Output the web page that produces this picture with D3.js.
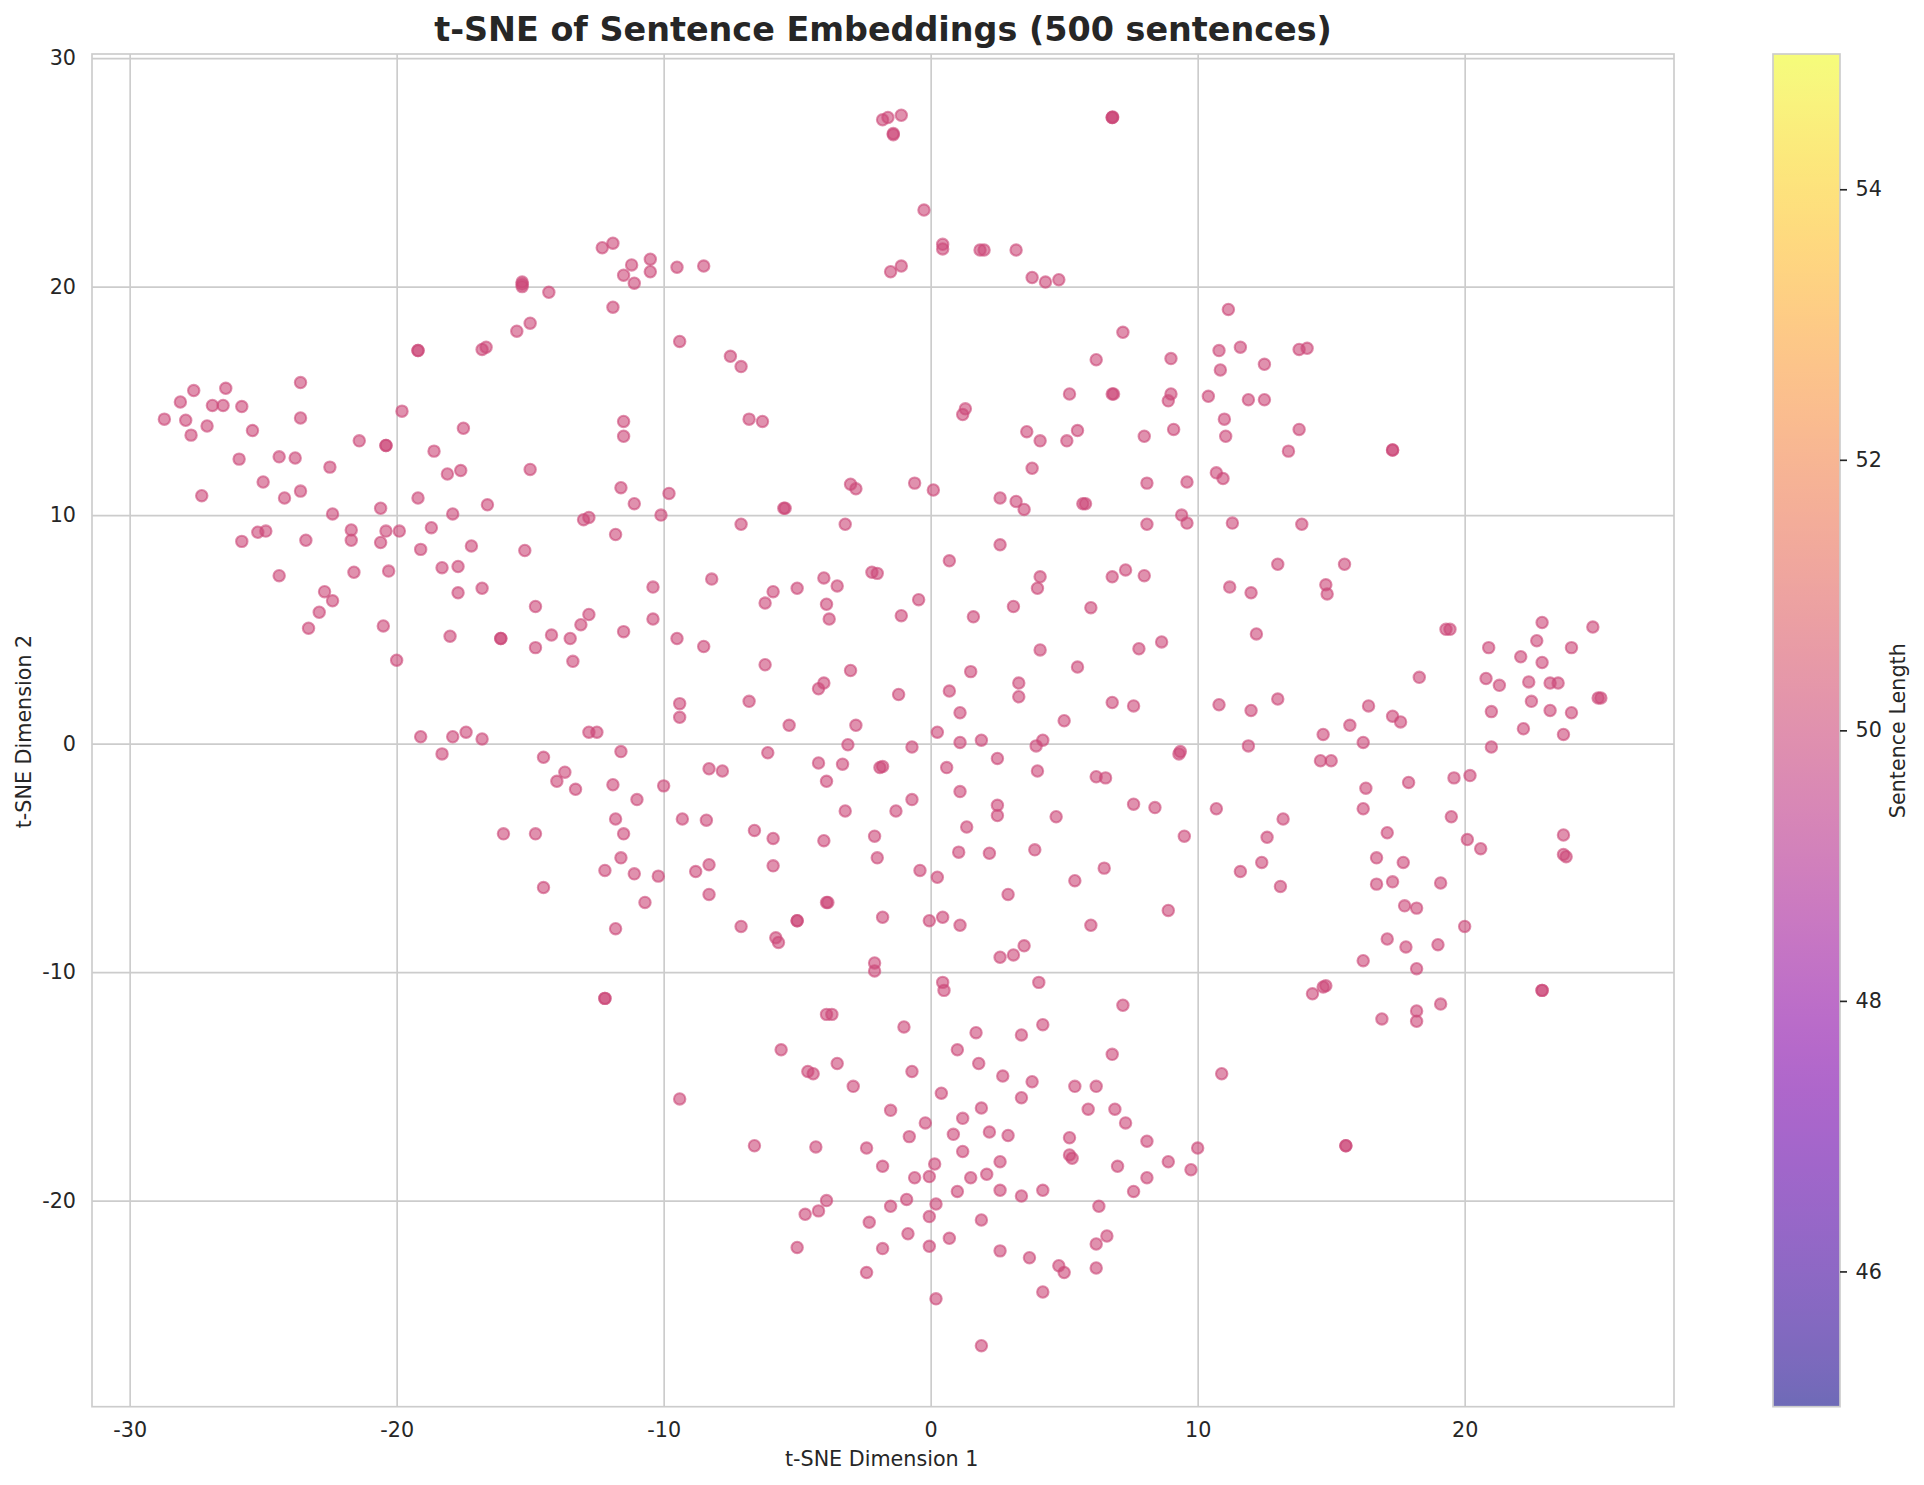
<!DOCTYPE html>
<html><head><meta charset="utf-8">
<script src="https://cdn.jsdelivr.net/npm/d3@7"></script>
<style>html,body{margin:0;padding:0;background:#fff}svg{display:block}text{font-family:"DejaVu Sans",sans-serif;fill:#262626}</style>
</head><body><div id="chart"></div>
<script>
const xTicks=[-30,-20,-10,0,10,20];
const yTicks=[-20,-10,0,10,20,30];
const colorTicks=[46,48,50,52,54];
const xDomain=[-31.41,27.84];
const yDomain=[-29.02,30.18];
const colorDomain=[45,55];
const sentenceLength=50;
const topPoints=[[-1.8,27.3],[-1.6,27.4],[-1.1,27.5],[-1.4,26.7],[-1.4,26.65],[6.8,27.4],[6.8,27.4],[6.82,27.42],[-0.25,23.35],[0.45,21.85],[0.45,21.65],[1.85,21.6],[2.0,21.6],[3.2,21.6],[3.8,20.4],[4.3,20.2],[4.8,20.3],[-1.5,20.65],[-1.1,20.9],[-12.3,21.7],[-11.9,21.9],[-11.2,20.95],[-10.5,21.2],[-10.5,20.65],[-11.5,20.5],[-11.1,20.15],[-9.5,20.85],[-8.5,20.9],[-15.3,20.0],[-15.3,20.2],[-15.3,20.1],[-14.3,19.75],[-11.9,19.1],[-15.5,18.05],[-15.0,18.4],[-16.8,17.25],[-16.65,17.35],[-19.2,17.2],[-19.2,17.2],[-9.4,17.6],[-7.5,16.95],[-7.1,16.5]];
const leftPoints=[[-28.7,14.2],[-28.1,14.95],[-27.9,14.15],[-27.6,15.45],[-27.7,13.5],[-27.1,13.9],[-26.9,14.8],[-26.5,14.8],[-26.4,15.55],[-25.8,14.75],[-25.9,12.45],[-25.4,13.7],[-27.3,10.85],[-25.0,11.45],[-24.4,12.55],[-23.8,12.5],[-23.6,15.8],[-23.6,14.25],[-23.6,11.05],[-24.2,10.75],[-22.5,12.1],[-21.4,13.25],[-20.4,13.05],[-20.4,13.05],[-19.8,14.55],[-17.5,13.8],[-18.6,12.8],[-18.1,11.8],[-17.6,11.95],[-19.2,10.75],[-20.6,10.3],[-22.4,10.05],[-17.9,10.05],[-16.6,10.45],[-15.0,12.0],[-25.8,8.85],[-25.2,9.25],[-24.9,9.3],[-24.4,7.35],[-23.4,8.9],[-21.7,9.35],[-21.7,8.9],[-20.6,8.8],[-20.4,9.3],[-19.9,9.3],[-18.7,9.45],[-19.1,8.5],[-17.2,8.65],[-15.2,8.45],[-21.6,7.5],[-20.3,7.55],[-18.3,7.7],[-17.7,7.75],[-17.7,6.6],[-16.8,6.8],[-22.7,6.65],[-22.4,6.25],[-22.9,5.75],[-23.3,5.05],[-20.5,5.15],[-20.0,3.65],[-18.0,4.7],[-16.1,4.6],[-16.1,4.6],[-14.8,6.0],[-14.8,4.2],[-14.2,4.75],[-13.5,4.6],[-13.1,5.2],[-12.8,5.65],[-13.4,3.6],[-11.5,4.9]];
const upperCentrePoints=[[-13.0,9.8],[-12.8,9.9],[-11.8,9.15],[-11.6,11.2],[-11.1,10.5],[-9.8,10.95],[-10.1,10.0],[-11.5,14.1],[-11.5,13.45],[-10.4,6.85],[-10.4,5.45],[-9.5,4.6],[-8.5,4.25],[-8.2,7.2],[-5.5,10.3],[-5.45,10.3],[-7.1,9.6],[-6.8,14.2],[-6.3,14.1],[-3.0,11.35],[-2.8,11.15],[-3.2,9.6],[-0.6,11.4],[0.1,11.1],[1.2,14.4],[1.3,14.65],[2.6,10.75],[3.2,10.6],[3.5,10.25],[2.6,8.7],[0.7,8.0],[-2.2,7.5],[-2.0,7.45],[-4.0,7.25],[-3.5,6.9],[-5.9,6.65],[-6.2,6.15],[-5.0,6.8],[-3.9,6.1],[-3.8,5.45],[-1.1,5.6],[-0.45,6.3],[-6.2,3.45],[-3.0,3.2],[-4.2,2.4],[-4.0,2.65],[-6.8,1.85],[-1.2,2.15],[0.7,2.3],[1.5,3.15],[1.6,5.55],[3.1,6.0],[4.1,4.1],[4.0,6.8],[4.1,7.3],[5.5,3.35],[6.0,5.95],[3.3,2.65],[3.3,2.05],[5.0,1.0],[6.8,1.8],[7.6,1.65],[1.1,1.35],[-9.4,1.75],[-9.4,1.15],[-5.3,0.8],[-2.8,0.8],[-12.8,0.5],[-12.5,0.5],[-19.1,0.3],[-17.9,0.3],[-17.4,0.5],[-16.8,0.2],[-18.3,-0.45]];
const lowerCentrePoints=[[-14.5,-0.6],[-14.0,-1.65],[-13.7,-1.25],[-13.3,-2.0],[-11.6,-0.35],[-11.9,-1.8],[-11.0,-2.45],[-11.8,-3.3],[-16.0,-3.95],[-14.8,-3.95],[-11.5,-3.95],[-11.6,-5.0],[-12.2,-5.55],[-11.1,-5.7],[-10.2,-5.8],[-10.7,-6.95],[-14.5,-6.3],[-11.8,-8.1],[-10.0,-1.85],[-9.3,-3.3],[-8.3,-1.1],[-7.8,-1.2],[-8.4,-3.35],[-8.8,-5.6],[-8.3,-5.3],[-8.3,-6.6],[-7.1,-8.0],[-6.6,-3.8],[-5.9,-4.15],[-5.9,-5.35],[-5.8,-8.5],[-5.7,-8.7],[-6.1,-0.4],[-3.1,-0.05],[-4.2,-0.85],[-3.9,-1.65],[-3.3,-0.9],[-3.2,-2.95],[-4.0,-4.25],[-5.0,-7.75],[-5.0,-7.75],[-3.9,-6.95],[-3.85,-6.95],[-2.1,-4.05],[-2.0,-5.0],[-1.8,-7.6],[-1.9,-1.05],[-1.8,-1.0],[-1.3,-2.95],[-0.7,-0.15],[-0.7,-2.45],[-0.4,-5.55],[0.25,-5.85],[0.25,0.5],[1.1,0.05],[1.9,0.15],[2.5,-0.65],[0.6,-1.05],[1.1,-2.1],[2.5,-2.7],[2.5,-3.15],[1.35,-3.65],[1.05,-4.75],[2.2,-4.8],[-0.05,-7.75],[0.45,-7.6],[1.1,-7.95],[2.9,-6.6],[3.9,-4.65],[4.7,-3.2],[4.0,-1.2],[4.2,0.15],[3.95,-0.1],[6.2,-1.45],[6.55,-1.5],[7.6,-2.65],[8.4,-2.8],[5.4,-6.0],[6.5,-5.45],[6.0,-7.95],[2.6,-9.35],[3.1,-9.25],[3.5,-8.85],[0.45,-10.45],[0.5,-10.8],[4.05,-10.45],[-2.1,-9.6],[-2.1,-9.95],[8.9,-7.3],[9.5,-4.05],[10.7,-2.85],[9.3,-0.45],[9.35,-0.35]];
const rightPoints=[[10.8,1.7],[11.9,-0.1],[12.0,1.45],[13.0,1.95],[13.2,-3.3],[12.6,-4.1],[11.6,-5.6],[12.4,-5.2],[13.1,-6.25],[14.7,0.4],[14.6,-0.75],[15.0,-0.75],[15.7,0.8],[16.2,0.05],[16.4,1.65],[17.3,1.2],[17.6,0.95],[18.3,2.9],[16.3,-1.95],[16.2,-2.85],[17.9,-1.7],[17.1,-3.9],[16.7,-5.0],[16.7,-6.15],[17.3,-6.05],[17.7,-5.2],[19.6,-1.5],[20.2,-1.4],[19.5,-3.2],[20.1,-4.2],[20.6,-4.6],[19.1,-6.1],[17.75,-7.1],[18.2,-7.2],[17.1,-8.55],[17.8,-8.9],[19.0,-8.8],[20.0,-8.0],[16.2,-9.5],[18.2,-9.85],[14.3,-10.95],[14.7,-10.65],[14.8,-10.6],[16.9,-12.05],[18.2,-11.7],[18.2,-12.15],[19.1,-11.4],[22.9,-10.8],[22.9,-10.8],[21.0,-0.15],[21.0,1.4],[20.8,2.85],[20.9,4.2],[21.3,2.55],[22.1,3.8],[22.2,0.65],[22.4,2.7],[22.5,1.85],[22.7,4.5],[22.9,3.55],[22.9,5.3],[23.2,2.65],[23.2,1.45],[23.5,2.65],[23.7,0.4],[24.0,1.35],[24.0,4.2],[24.8,5.1],[25.0,2.0],[25.1,2.0],[19.3,5.0],[19.45,5.0],[23.7,-4.0],[23.7,-4.85],[23.8,-4.95]];
const upperRightPoints=[[11.15,19.0],[7.2,18.0],[6.2,16.8],[9.0,16.85],[10.8,17.2],[11.6,17.35],[10.85,16.35],[12.5,16.6],[13.8,17.25],[14.1,17.3],[5.2,15.3],[6.8,15.3],[6.85,15.3],[8.9,15.0],[9.0,15.3],[10.4,15.2],[11.9,15.05],[12.5,15.05],[11.0,14.2],[9.1,13.75],[11.05,13.45],[13.8,13.75],[3.6,13.65],[4.1,13.25],[5.1,13.25],[5.5,13.7],[8.0,13.45],[13.4,12.8],[17.3,12.85],[17.3,12.85],[3.8,12.05],[8.1,11.4],[9.6,11.45],[10.7,11.85],[10.95,11.6],[5.7,10.5],[5.8,10.5],[9.4,10.0],[9.6,9.65],[8.1,9.6],[11.3,9.65],[13.9,9.6],[6.8,7.3],[7.3,7.6],[8.0,7.35],[11.2,6.85],[12.0,6.6],[13.0,7.85],[15.5,7.85],[14.8,6.95],[14.85,6.55],[12.2,4.8],[7.8,4.15],[8.65,4.45]];
const bottomPoints=[[-5.6,-13.4],[-4.6,-14.35],[-4.4,-14.45],[-3.5,-14.0],[-3.9,-11.85],[-3.7,-11.85],[-1.0,-12.4],[-2.9,-15.0],[-0.7,-14.35],[-1.5,-16.05],[0.4,-15.3],[1.0,-13.4],[1.7,-12.65],[1.8,-14.0],[2.7,-14.55],[3.4,-12.75],[4.2,-12.3],[7.2,-11.45],[6.8,-13.6],[10.9,-14.45],[3.8,-14.8],[3.4,-15.5],[5.4,-15.0],[6.2,-15.0],[5.9,-16.0],[6.9,-16.0],[7.3,-16.6],[1.2,-16.4],[1.9,-15.95],[-0.2,-16.6],[-0.8,-17.2],[0.85,-17.1],[2.2,-17.0],[2.9,-17.15],[5.2,-17.25],[8.1,-17.4],[10.0,-17.7],[-2.4,-17.7],[-1.8,-18.5],[1.2,-17.85],[2.6,-18.3],[0.15,-18.4],[5.2,-18.0],[5.3,-18.15],[7.0,-18.5],[8.9,-18.3],[9.75,-18.65],[-0.6,-19.0],[-0.05,-18.95],[1.5,-19.0],[2.1,-18.85],[8.1,-19.0],[1.0,-19.6],[2.6,-19.55],[3.4,-19.8],[4.2,-19.55],[7.6,-19.6],[-0.9,-19.95],[-1.5,-20.25],[0.2,-20.15],[6.3,-20.25],[-3.9,-20.0],[-4.7,-20.6],[-4.2,-20.45],[-2.3,-20.95],[-0.05,-20.7],[1.9,-20.85],[-0.85,-21.45],[0.7,-21.65],[-1.8,-22.1],[-5.0,-22.05],[-0.05,-22.0],[2.6,-22.2],[3.7,-22.5],[6.2,-21.9],[6.6,-21.55],[4.8,-22.85],[5.0,-23.15],[6.2,-22.95],[-2.4,-23.15],[4.2,-24.0],[0.2,-24.3],[1.9,-26.35],[15.55,-17.6],[15.55,-17.6],[-9.4,-15.55],[-6.6,-17.6],[-4.3,-17.65],[-12.2,-11.15],[-12.2,-11.15]];

const allPoints=[...topPoints,...leftPoints,...upperCentrePoints,...lowerCentrePoints,...rightPoints,...upperRightPoints,...bottomPoints];
const W=1924,H=1485,pL=92,pR=1674,pT=54,pB=1406.7,cL=1773,cR=1840;
const svg=d3.select('#chart').append('svg').attr('width',W).attr('height',H).attr('viewBox',[0,0,W,H]);
const x=d3.scaleLinear().domain(xDomain).range([pL,pR]);
const y=d3.scaleLinear().domain(yDomain).range([pB,pT]);
const c=d3.scaleLinear().domain(colorDomain).range([pB,pT]);
const colorOf=v=>d3.interpolatePlasma((v-colorDomain[0])/(colorDomain[1]-colorDomain[0]));
const grid='#cccccc',gw=1.67,fs=20.7;

const gx=svg.append('g').attr('transform',`translate(0,${pB})`).call(d3.axisBottom(x).tickValues(xTicks).tickSize(-(pB-pT)).tickPadding(16).tickFormat(d=>String(d)));
const gy=svg.append('g').attr('transform',`translate(${pL},0)`).call(d3.axisLeft(y).tickValues(yTicks).tickSize(-(pR-pL)).tickPadding(16).tickFormat(d=>String(d)));
[gx,gy].forEach(g=>{g.select('.domain').remove();g.selectAll('line').attr('stroke',grid).attr('stroke-width',gw);g.selectAll('text').attr('font-size',fs).attr('font-family','DejaVu Sans').attr('fill','#262626');});
svg.append('rect').attr('x',pL).attr('y',pT).attr('width',pR-pL).attr('height',pB-pT).attr('fill','none').attr('stroke',grid).attr('stroke-width',gw);

svg.append('g').selectAll('circle').data(allPoints).join('circle')
 .attr('cx',d=>x(d[0])).attr('cy',d=>y(d[1])).attr('r',5.7)
 .attr('fill',colorOf(sentenceLength)).attr('fill-opacity',0.6)
 .attr('stroke',colorOf(sentenceLength)).attr('stroke-opacity',0.6).attr('stroke-width',2.08);

const defs=svg.append('defs');
const lg=defs.append('linearGradient').attr('id','plasmaBar').attr('x1',0).attr('x2',0).attr('y1',1).attr('y2',0);
d3.range(0,257).forEach(i=>lg.append('stop').attr('offset',i/256).attr('stop-color',d3.interpolatePlasma(i/256)).attr('stop-opacity',0.6));
svg.append('rect').attr('x',cL).attr('y',pT).attr('width',cR-cL).attr('height',pB-pT).attr('fill','url(#plasmaBar)').attr('stroke',grid).attr('stroke-width',gw);
const gc=svg.append('g').attr('transform',`translate(${cR},0)`).call(d3.axisRight(c).tickValues(colorTicks).tickSize(7).tickPadding(8.5).tickFormat(d=>String(d)));
gc.select('.domain').remove();gc.selectAll('line').attr('stroke','#262626').attr('stroke-width',1.67);gc.selectAll('text').attr('font-size',fs).attr('font-family','DejaVu Sans').attr('fill','#262626');

svg.append('text').attr('x',883).attr('y',41).attr('text-anchor','middle').attr('font-size',33.4).attr('font-weight','bold').text('t-SNE of Sentence Embeddings (500 sentences)');
svg.append('text').attr('x',881.7).attr('y',1465.7).attr('text-anchor','middle').attr('font-size',fs).text('t-SNE Dimension 1');
svg.append('text').attr('transform',`translate(30.7,731.5) rotate(-90)`).attr('text-anchor','middle').attr('font-size',fs).text('t-SNE Dimension 2');
svg.append('text').attr('transform',`translate(1905,730.7) rotate(-90)`).attr('text-anchor','middle').attr('font-size',fs).text('Sentence Length');
</script></body></html>
